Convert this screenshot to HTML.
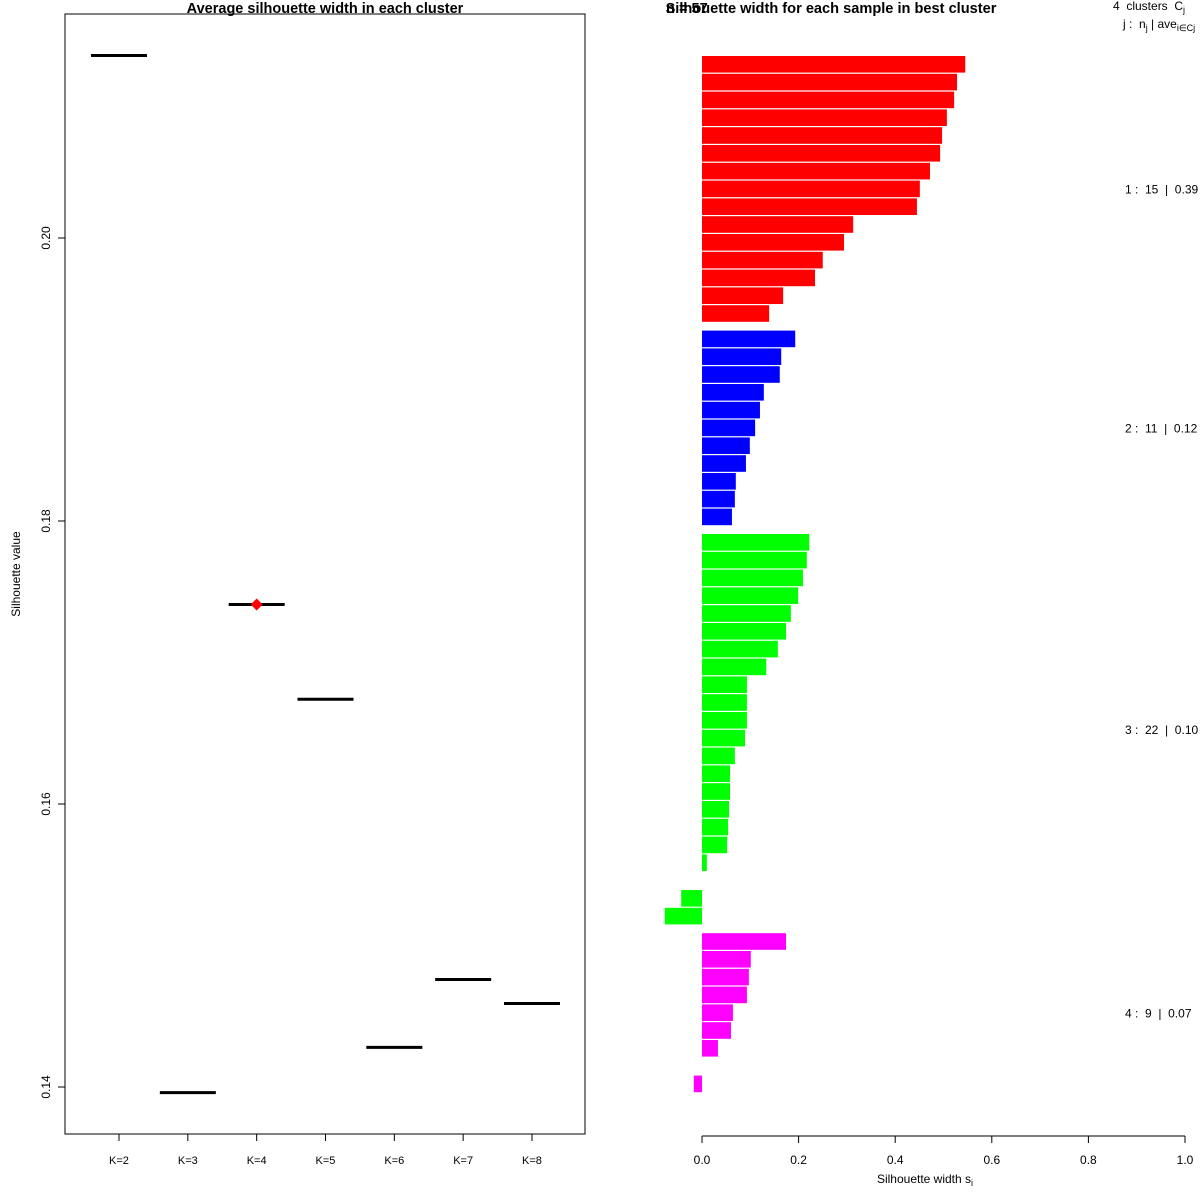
<!DOCTYPE html>
<html><head><meta charset="utf-8"><style>
html,body{margin:0;padding:0;background:#fff}
svg{display:block;font-family:"Liberation Sans",sans-serif}
text{white-space:pre}
</style></head><body>
<svg id="chart" width="1200" height="1200" xmlns="http://www.w3.org/2000/svg">
<rect width="1200" height="1200" fill="#fff"/>
<g id="left">
<rect x="65" y="14" width="520" height="1120" fill="none" stroke="#000" stroke-width="1"/>
<text x="325" y="13" font-size="14.5" font-weight="bold" text-anchor="middle">Average silhouette width in each cluster</text>
<text transform="translate(20,574) rotate(-90)" font-size="12" text-anchor="middle">Silhouette value</text>
</g>
<g id="right">
<text x="831" y="13" font-size="14.6" font-weight="bold" text-anchor="middle">Silhouette width for each sample in best cluster</text>
<text x="666" y="13" font-size="14.6" font-weight="bold">n = 57</text>
<text x="1113" y="10" font-size="12">4  clusters  C<tspan font-size="9" dy="3">j</tspan></text>
<text x="1123" y="28" font-size="12">j :  n<tspan font-size="9" dy="3">j</tspan><tspan dy="-3"> | ave</tspan><tspan font-size="9" dy="3">i∈Cj</tspan><tspan dy="-3">  s</tspan><tspan font-size="9" dy="3">i</tspan></text>
<line x1="702" y1="1136" x2="1185" y2="1136" stroke="#000"/>
<text x="925" y="1183" font-size="12" text-anchor="middle">Silhouette width s<tspan font-size="9" dy="3">i</tspan></text>
</g>
</svg>
<script>
const kLabels=["K=2","K=3","K=4","K=5","K=6","K=7","K=8"];
const kValues=[0.2129,0.1396,0.1741,0.1674,0.1428,0.1476,0.1459];
const bestK=2;
const yTicks=[0.14,0.16,0.18,0.20];
const c1=[0.545,0.528,0.522,0.507,0.497,0.493,0.472,0.451,0.445,0.313,0.294,0.250,0.234,0.168,0.139];
const c2=[0.193,0.164,0.161,0.128,0.120,0.110,0.099,0.091,0.070,0.068,0.062];
const c3=[0.222,0.217,0.209,0.199,0.184,0.174,0.157,0.133,0.093,0.093,0.093,0.089,0.068,0.058,0.058,0.056,0.054,0.052,0.010,0.0,-0.043,-0.077];
const c4=[0.174,0.101,0.097,0.093,0.064,0.060,0.033,0.0,-0.017];
const clusterColors=["#ff0000","#0000ff","#00ff00","#ff00ff"];
const clusterLabels=["1 :  15  |  0.39","2 :  11  |  0.12","3 :  22  |  0.10","4 :  9  |  0.07"];
const xTicks=[0,0.2,0.4,0.6,0.8,1.0];

const NS="http://www.w3.org/2000/svg";
const L=document.getElementById('left'),R=document.getElementById('right');
function mk(tag,attrs,parent){const e=document.createElementNS(NS,tag);for(const k in attrs)e.setAttribute(k,attrs[k]);parent.appendChild(e);return e;}
const ly=v=>238+(0.20-v)*14150;
const lx=i=>119+i*68.83;
yTicks.forEach(t=>{
  const l=mk('line',{x1:58,x2:65,y1:ly(t),y2:ly(t),stroke:'#000'},L);
  
  
  const tx=mk('text',{transform:`translate(50,${ly(t)}) rotate(-90)`,'font-size':12,'text-anchor':'middle'},L);
  tx.textContent=t.toFixed(2);
  
  
});
kLabels.forEach((k,i)=>{
  const l=mk('line',{x1:lx(i),x2:lx(i),y1:1134,y2:1141,stroke:'#000'},L);
  
  
  const tx=mk('text',{x:lx(i),y:1164,'font-size':11,'text-anchor':'middle'},L);
  tx.textContent=k;
  
  
  const s=mk('line',{x1:lx(i)-28,x2:lx(i)+28,y1:ly(kValues[i]),y2:ly(kValues[i]),stroke:'#000','stroke-width':3},L);
  
  
});
{const x=lx(bestK),y=ly(kValues[bestK]);
const d=mk('polygon',{points:`${x},${y-6} ${x+6},${y} ${x},${y+6} ${x-6},${y}`,fill:'#ff0000'},L);

}

const sx=v=>702+v*483;
const step=17.8,bh=16.6,gap=7.6;
let y=56;
[c1,c2,c3,c4].forEach((c,ci)=>{
  const y0=y;
  c.forEach(v=>{
    if(v!==0){
      const r=mk('rect',{x:Math.min(sx(0),sx(v)),y:y,width:Math.abs(sx(v)-sx(0)),height:bh,fill:clusterColors[ci]},R);
      
      
    }
    y+=step;
  });
  const tx=mk('text',{x:1125,y:(y0+y)/2+4,'font-size':12},R);
  tx.textContent=clusterLabels[ci];
  
  
  y+=gap;
});
xTicks.forEach(t=>{
  const l=mk('line',{x1:sx(t),x2:sx(t),y1:1136,y2:1143,stroke:'#000'},R);
  
  
  const tx=mk('text',{x:sx(t),y:1164,'font-size':12,'text-anchor':'middle'},R);
  tx.textContent=t.toFixed(1);
  
  
});
</script>
</body></html>
